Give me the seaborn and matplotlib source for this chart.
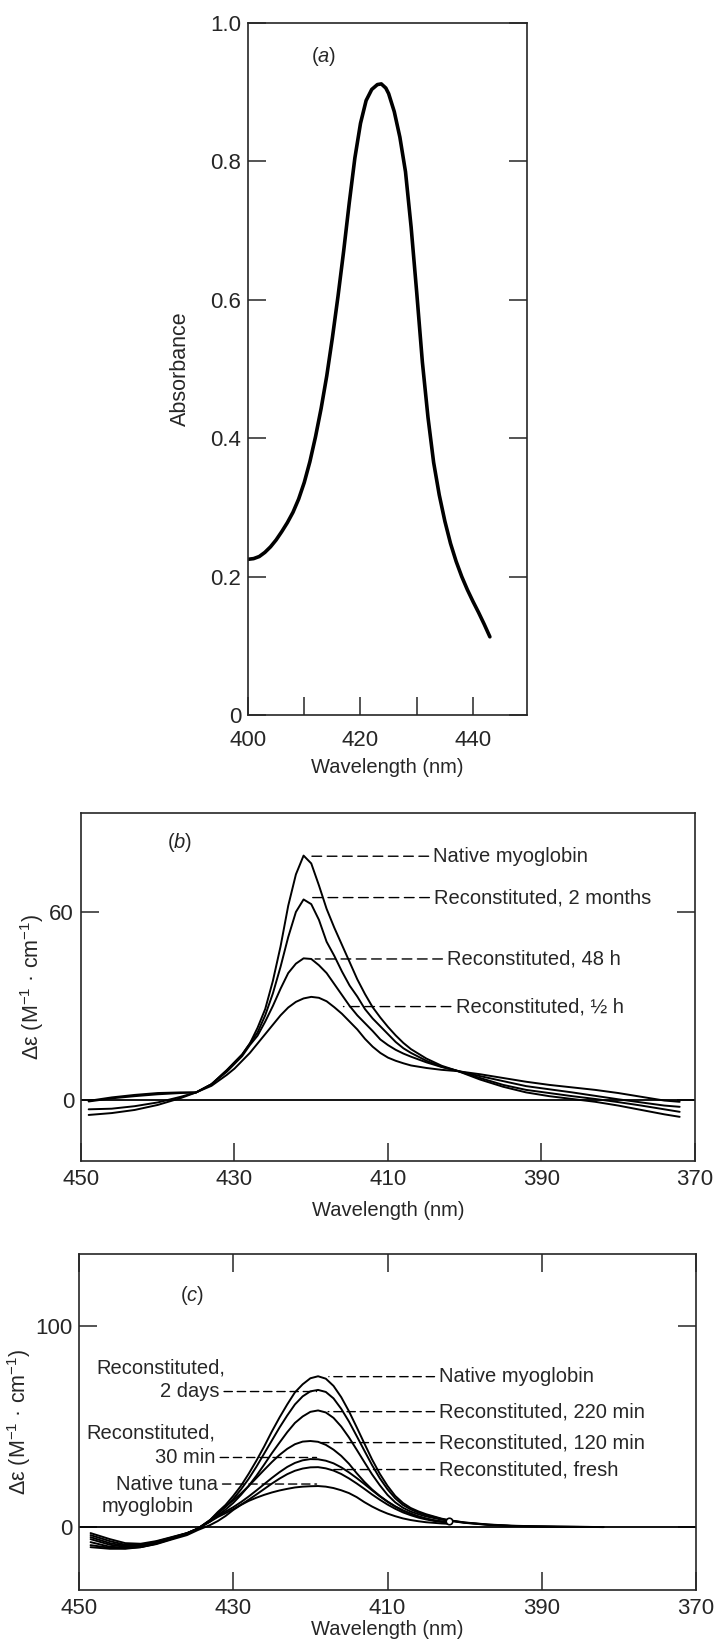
import numpy as np
import pandas as pd
import matplotlib
matplotlib.use("Agg")
import matplotlib.pyplot as plt
import seaborn as sns

# ---------------- data ----------------
# (a) absorbance spectrum
a_wavelength = [400, 401, 402, 403, 404, 405, 406, 407, 408, 409, 410, 411, 412, 413, 414, 415,
                416, 417, 418, 419, 420, 421, 422, 423, 423.7, 424.5, 425, 426, 427, 428, 429,
                430, 431, 432, 433, 434, 435, 436, 437, 438, 439, 440, 441, 442, 443]
a_absorbance = [0.225, 0.226, 0.229, 0.235, 0.243, 0.253, 0.265, 0.278, 0.293, 0.312, 0.336,
                0.366, 0.402, 0.443, 0.490, 0.545, 0.605, 0.670, 0.740, 0.805, 0.855, 0.888,
                0.904, 0.911, 0.912, 0.906, 0.898, 0.872, 0.835, 0.785, 0.705, 0.610, 0.510,
                0.430, 0.365, 0.318, 0.280, 0.248, 0.222, 0.200, 0.181, 0.164, 0.148, 0.131,
                0.113]

# (b) difference spectra
b_wavelength = [449, 446, 443, 440, 437, 435, 433, 431, 430, 429, 428, 427, 426, 425, 424, 423,
                422, 421, 420, 419, 418, 417, 416, 415, 414, 413, 412, 411, 410, 409, 408, 407,
                405, 403, 401, 398, 395, 392, 389, 386, 383, 380, 377, 374, 372]
b_native = [-3.0, -2.8, -2.0, -0.8, 1.0, 2.4, 5.0, 9.5, 12, 14.5, 18, 23, 29, 38, 49, 62, 72, 78,
            75.5, 68.5, 61, 55, 49.5, 44, 38.5, 33.8, 29.6, 26.3, 23.3, 20.6, 18.2, 16.2, 13.2,
            10.9, 9.3, 6.5, 4.2, 2.4, 1.2, 0.3, -0.6, -1.8, -3.2, -4.6, -5.4]
b_2months = [-4.8, -4.2, -3.2, -1.6, 0.6, 2.4, 5.0, 9.5, 12, 14.5, 18, 21.5, 27, 34, 42.5, 52, 60,
             64, 62.5, 57.5, 50.5, 46, 41, 36.5, 33, 29, 26, 23.5, 21, 18.5, 16.5, 15, 12.5, 10.6,
             9.3, 7.0, 4.8, 3.2, 2.2, 1.2, 0.3, -0.7, -1.8, -3.0, -3.8]
b_48h = [-0.5, 0.5, 1.2, 1.8, 2.2, 2.4, 5.0, 9.0, 11.5, 14, 17.5, 20.5, 25, 30, 35.5, 40.5, 43.5,
         45.2, 45, 43, 40.5, 37, 33.5, 30, 27, 24.5, 22, 19.3, 17.5, 16, 14.8, 13.8, 12, 10.5, 9.3,
         7.6, 6.0, 4.4, 3.4, 2.4, 1.3, 0.2, -0.8, -1.8, -2.2]
b_half_h = [-0.3, 0.8, 1.6, 2.2, 2.4, 2.4, 4.5, 8, 10, 12.5, 15, 18, 21, 24, 27, 29.5, 31.3, 32.4,
            32.9, 32.6, 31.5, 29.6, 27.5, 25, 22.5, 19.5, 17, 15, 13.5, 12.5, 11.7, 11, 10.2, 9.6,
            9.2, 8.2, 7.0, 5.8, 4.8, 4.0, 3.2, 2.2, 1.0, -0.2, -0.6]
b_series = ["Native myoglobin", "Reconstituted, 2 months", "Reconstituted, 48 h", "Reconstituted, ½ h"]

# (c) difference spectra
c_wavelength = [448.5, 446, 444, 442, 440, 438, 436, 434.6, 433, 432, 431, 430, 429, 428, 427, 426,
                425, 424, 423, 422, 421, 420, 419, 418, 417, 416, 415, 414, 413, 412, 411, 410,
                409, 408, 407, 406, 405, 404, 403, 402, 400, 397, 394, 391, 388, 385, 382]
c_native = [-3, -6, -8, -8.3, -7, -5, -3, -0.8, 3.5, 7.5, 11, 15.5, 20.5, 26.5, 33, 40, 47.5, 54.5,
            61, 67, 71, 74, 75, 73.8, 70.2, 64.6, 57.6, 49.7, 41.6, 33.6, 26.5, 20.5, 15.5, 12,
            9.5, 7.8, 6.4, 5.3, 4.2, 3.4, 2.3, 1.3, 0.7, 0.4, 0.2, 0.1, 0.0]
c_2days = [-4, -7, -8.8, -8.8, -7.3, -5.2, -3, -0.8, 3.2, 6.8, 10, 14, 18.7, 24, 30, 36.5, 43, 49.5,
           55.5, 61, 65, 67.5, 68.2, 67.2, 64, 58.8, 52.5, 45.3, 38, 30.8, 24.3, 18.8, 14.3, 11,
           8.8, 7.2, 6, 5, 4, 3.3, 2.2, 1.2, 0.6, 0.35, 0.2, 0.1, 0.0]
c_220min = [-5, -8, -9.3, -9.2, -7.6, -5.4, -3.1, -0.8, 2.8, 5.9, 8.7, 12, 16, 20.5, 25.5, 31, 36.7,
            42, 47.2, 51.8, 55, 57.3, 58, 57, 54.3, 50, 44.6, 38.5, 32.3, 26.2, 20.8, 16, 12.3,
            9.6, 7.7, 6.4, 5.3, 4.5, 3.7, 3.1, 2.1, 1.1, 0.55, 0.3, 0.15, 0.05, 0.0]
c_120min = [-6, -8.8, -9.8, -9.6, -7.9, -5.6, -3.2, -0.8, 3.5, 7, 10.2, 13.3, 16.7, 20.4, 24.4, 28.4,
            32.3, 35.9, 38.9, 41.2, 42.5, 42.8, 42.4, 40.9, 38.5, 35.4, 31.5, 26.8, 22.5, 18.7,
            15.5, 12.7, 10.3, 8.3, 6.7, 5.3, 4.2, 3.3, 2.7, 2.3]
c_30min = [-7.5, -9.8, -10.2, -9.8, -8.1, -5.7, -3.2, -0.8, 3.0, 5.6, 7.7, 9.9, 12.4, 15.2, 18.2,
           21.3, 24.4, 27.3, 29.9, 31.9, 33.2, 33.8, 33.7, 33.0, 31.7, 29.7, 27.2, 24.4, 21.4, 18.3,
           15.3, 12.6, 10.2, 8.2, 6.6, 5.3, 4.2, 3.4, 2.8, 2.3]
c_fresh = [-9, -10.3, -10.5, -10, -8.3, -5.9, -3.3, -0.8, 2.7, 5.0, 6.9, 8.9, 11.1, 13.6, 16.2, 18.9,
           21.6, 24.1, 26.3, 28.0, 29.1, 29.7, 29.8, 29.2, 28.1, 26.4, 24.2, 21.7, 19.0, 16.2, 13.6,
           11.2, 9.1, 7.3, 5.9, 4.7, 3.8, 3.1, 2.6, 2.2]
c_tuna = [-10, -10.8, -10.8, -10, -8.5, -6.2, -4, -1.5, 1.0, 3, 5.5, 8.5, 11, 13, 14.6, 16, 17.2,
          18.2, 19, 19.7, 20.1, 20.3, 20.4, 20.1, 19.4, 18.3, 16.9, 14.9, 12.4, 10.2, 8.3, 6.7,
          5.4, 4.3, 3.5, 2.9, 2.4, 2.1, 1.8, 1.6]
c_series = ["Native myoglobin", "Reconstituted, 2 days", "Reconstituted, 220 min",
            "Reconstituted, 120 min", "Reconstituted, 30 min", "Reconstituted, fresh",
            "Native tuna myoglobin"]
c_marker_wavelength = [402]
c_marker_value = [3.0]

# ---------------- style ----------------
sns.set_style("ticks")
plt.rcParams['font.family'] = ['Liberation Sans', 'DejaVu Sans']
plt.rcParams['mathtext.fontset'] = 'custom'
plt.rcParams['mathtext.rm'] = 'Liberation Sans'
plt.rcParams['mathtext.it'] = 'Liberation Sans:italic'
plt.rcParams['mathtext.bf'] = 'Liberation Sans:bold'
plt.rcParams['axes.linewidth'] = 1.2

TXT = 14.5
TICK = 16
YLAB = 15.5

fig = plt.figure(figsize=(7.17, 16.47), dpi=100)
ax_a = fig.add_axes([248 / 717, 1 - 715 / 1647, 279 / 717, 692 / 1647])
ax_b = fig.add_axes([81 / 717, 1 - 1161 / 1647, 614 / 717, 348 / 1647])
ax_c = fig.add_axes([79 / 717, 1 - 1590 / 1647, 617 / 717, 336 / 1647])


def long_df(wl, names, arrays):
    rows = []
    for name, arr in zip(names, arrays):
        for w, v in zip(wl, arr):
            rows.append((name, w, v))
    return pd.DataFrame(rows, columns=["series", "wl", "val"])


def leader(ax, text, tx, ty, lx, ha, dashes):
    ax.annotate(text, xy=(lx, ty), xytext=(tx, ty), fontsize=TXT, ha=ha, va="center",
                arrowprops=dict(arrowstyle="-", linestyle=(0, dashes), linewidth=1.0,
                                color="black", shrinkA=1, shrinkB=0))


# ---------------- panel a ----------------
df_a = pd.DataFrame({"wl": a_wavelength, "val": a_absorbance})
sns.lineplot(data=df_a, x="wl", y="val", ax=ax_a, color="black", linewidth=2.6,
             estimator=None, sort=False)
ax_a.set_xlim(400, 449.6)
ax_a.set_ylim(0, 1.0)
ax_a.set_xticks([400, 420, 440])
ax_a.set_xticks([410, 430], minor=True)
ax_a.set_yticks([0, 0.2, 0.4, 0.6, 0.8, 1.0])
ax_a.set_yticklabels(["0", "0.2", "0.4", "0.6", "0.8", "1.0"])
ax_a.tick_params(axis="both", which="both", direction="in", length=13, width=1.1,
                 labelsize=TICK)
ax_a.tick_params(axis="y", right=True, pad=5)
ax_a.tick_params(axis="x", which="both", top=False, pad=11)
ax_a.set_xlabel("Wavelength (nm)", fontsize=TXT)
ax_a.set_ylabel("Absorbance", fontsize=YLAB)
ax_a.xaxis.set_label_coords(0.5, -0.062)
ax_a.yaxis.set_label_coords(-0.205, 0.5)
ax_a.text(413.4, 0.951, r"($\mathit{a}$)", fontsize=TXT, ha="center", va="center")

# ---------------- panel b ----------------
df_b = long_df(b_wavelength, b_series, [b_native, b_2months, b_48h, b_half_h])
sns.lineplot(data=df_b, x="wl", y="val", units="series", estimator=None, sort=False,
             color="black", linewidth=1.4, ax=ax_b)
ax_b.axhline(0, color="black", linewidth=1.3)
ax_b.set_xlim(450, 370)
ax_b.set_ylim(-19.5, 91.6)
ax_b.set_xticks([450, 430, 410, 390, 370])
ax_b.set_yticks([0, 60])
ax_b.tick_params(axis="both", direction="in", length=13, width=1.1, labelsize=TICK)
ax_b.tick_params(axis="y", right=True, pad=5)
ax_b.tick_params(axis="x", top=False, pad=6)
ax_b.set_xlabel("Wavelength (nm)", fontsize=TXT)
ax_b.set_ylabel(r"Δε (M$^{-1}$ · cm$^{-1}$)", fontsize=YLAB)
ax_b.xaxis.set_label_coords(0.5, -0.115)
ax_b.yaxis.set_label_coords(-0.057, 0.5)
ax_b.text(437.2, 82.3, r"($\mathit{b}$)", fontsize=TXT, ha="center", va="center")

b_labels = [
    (b_series[0], 404.1, 77.8, 420.2),
    (b_series[1], 404.0, 64.6, 420.3),
    (b_series[2], 402.3, 45.0, 419.5),
    (b_series[3], 401.2, 29.8, 415.8),
]
for text, tx, ty, lx in b_labels:
    leader(ax_b, text, tx, ty, lx, "left", (7, 4))

# ---------------- panel c ----------------
df_c = long_df(c_wavelength, c_series,
               [c_native, c_2days, c_220min, c_120min, c_30min, c_fresh, c_tuna])
sns.lineplot(data=df_c, x="wl", y="val", units="series", estimator=None, sort=False,
             color="black", linewidth=1.4, ax=ax_c)
sns.scatterplot(x=c_marker_wavelength, y=c_marker_value, ax=ax_c, s=22, marker="o",
                facecolor="white", edgecolor="black", linewidth=1.2, zorder=5)
ax_c.axhline(0, color="black", linewidth=1.3)
ax_c.set_xlim(450, 370)
ax_c.set_ylim(-31.3, 135.8)
ax_c.set_xticks([450, 430, 410, 390, 370])
ax_c.set_yticks([0, 100])
ax_c.tick_params(axis="both", direction="in", length=13, width=1.1, labelsize=TICK)
ax_c.tick_params(axis="y", right=True, pad=5)
ax_c.tick_params(axis="x", top=True, pad=6)
ax_c.set_xlabel("Wavelength (nm)", fontsize=TXT)
ax_c.set_ylabel(r"Δε (M$^{-1}$ · cm$^{-1}$)", fontsize=YLAB)
ax_c.xaxis.set_label_coords(0.5, -0.088)
ax_c.yaxis.set_label_coords(-0.075, 0.5)
ax_c.text(435.3, 115.4, r"($\mathit{c}$)", fontsize=TXT, ha="center", va="center")

c_right_labels = [
    (c_series[0], 403.3, 74.8, 417.6),
    ("Reconstituted, 220 min", 403.3, 57.4, 417.7),
    ("Reconstituted, 120 min", 403.3, 42.0, 418.8),
    ("Reconstituted, fresh", 403.3, 28.6, 417.4),
]
for text, tx, ty, lx in c_right_labels:
    leader(ax_c, text, tx, ty, lx, "left", (6, 3.5))

c_left_labels = [
    ("2 days", 431.8, 67.4, 419.2),
    ("30 min", 432.3, 34.6, 419.2),
    ("Native tuna", 432.0, 21.4, 419.2),
]
for text, tx, ty, lx in c_left_labels:
    leader(ax_c, text, tx, ty, lx, "right", (6, 3.5))
ax_c.text(431.1, 79.1, "Reconstituted,", fontsize=TXT, ha="right", va="center")
ax_c.text(432.3, 46.8, "Reconstituted,", fontsize=TXT, ha="right", va="center")
ax_c.text(441.1, 10.0, "myoglobin", fontsize=TXT, ha="center", va="center")

for ax in (ax_a, ax_b, ax_c):
    for s in ax.spines.values():
        s.set_visible(True)
        s.set_linewidth(1.2)
    ax.set_facecolor("white")

fig.savefig("out.png", dpi=100, facecolor="white")
